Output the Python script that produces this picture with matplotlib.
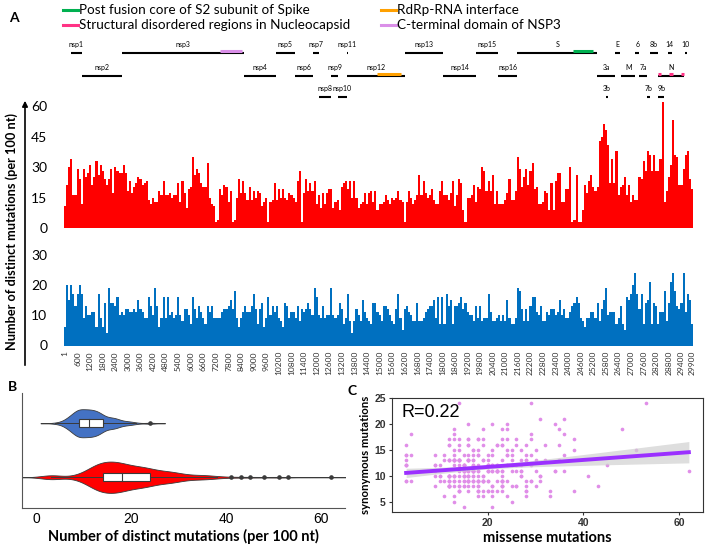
import numpy as np
import matplotlib
matplotlib.use("Agg")
import matplotlib.pyplot as plt
from matplotlib.patches import FancyArrowPatch, Rectangle
from matplotlib.lines import Line2D

plt.rcParams['font.family'] = ['Lato', 'DejaVu Sans']

# ---------------- data ----------------
# distinct missense mutations per 100 nt window (red)
missense_1 = [11, 21, 30, 34, 16, 16, 29, 24, 12, 29, 25, 27, 31, 21, 25, 33, 26, 31, 28, 24,
              21, 24, 29, 17, 30, 28, 27, 27, 31, 27, 18, 23, 17, 20, 22, 25, 24, 21, 22, 23,
              14, 12, 15, 13, 13, 18, 16, 23, 16, 16, 17, 15, 16, 16, 22, 13, 23, 17, 10, 19,
              20, 35, 26, 29, 27, 22, 20, 20, 32, 15, 12, 11]
missense_2 = [3, 4, 19, 16, 21, 20, 13, 18, 3, 4, 15, 24, 17, 23, 17, 14, 20, 14, 18, 15,
              18, 17, 11, 13, 15, 3, 13, 14, 22, 14, 19, 15, 19, 15, 14, 17, 16, 15, 13, 23,
              28, 3, 17, 24, 18, 22, 18, 23, 12, 16, 10, 17, 12, 17, 19, 19, 10, 13, 14, 9,
              20, 22, 23, 19, 23, 15, 23, 15, 10, 12, 13, 17, 12, 17, 18, 13, 18]
missense_3 = [9, 12, 12, 13, 16, 14, 12, 15, 14, 15, 18, 14, 13, 3, 13, 18, 15, 12, 14, 16,
              26, 16, 23, 17, 15, 16, 19, 14, 12, 12, 18, 23, 16, 16, 14, 17, 23, 11, 16, 24,
              22, 9, 3, 15, 15, 16, 21, 13, 20, 19, 30, 28, 18, 23, 18, 26, 12, 18, 12, 12,
              12, 14, 17, 24, 14, 14, 18, 35, 29, 20, 25, 29, 21, 28, 32, 19, 20]
missense_4 = [12, 12, 13, 18, 17, 9, 22, 9, 23, 27, 27, 13, 13, 19, 19, 30, 3, 4, 26, 3,
              3, 9, 21, 17, 23, 26, 20, 18, 20, 43, 45, 51, 48, 41, 22, 34, 22, 38, 16, 20,
              21, 25, 16, 21, 13, 16, 14, 14, 25, 24, 33, 28, 38, 36, 28, 36, 28, 28, 34, 62,
              13, 18, 25, 31, 53, 36, 35, 21, 21, 29, 36, 38, 24, 19]

# distinct synonymous mutations per 100 nt window (blue)
synonymous_1 = [6, 20, 15, 20, 17, 13, 17, 20, 17, 9, 13, 10, 10, 11, 11, 6, 17, 9, 6, 14,
                4, 19, 14, 14, 13, 16, 10, 11, 10, 12, 12, 11, 11, 12, 11, 15, 12, 11, 9, 9,
                16, 13, 10, 19, 13, 6, 9, 16, 9, 16, 10, 11, 9, 10, 16, 10, 8, 12, 12, 10,
                7, 16, 12, 9, 13, 11, 9, 7, 13, 11, 13, 9, 9, 9, 9, 11, 12, 12, 13, 15,
                12, 18, 9, 6, 9, 11, 13, 11, 11, 13, 17, 12, 7, 12, 14, 6, 9]
synonymous_2 = [16, 10, 13, 11, 13, 9, 8, 6, 14, 13, 9, 11, 11, 9, 13, 8, 12, 11, 12, 14,
                12, 10, 19, 16, 10, 9, 13, 9, 10, 10, 19, 10, 9, 10, 14, 12, 7, 9, 17, 8,
                4, 8, 12, 10, 8, 15, 11, 9, 8, 7, 14, 14, 11, 10, 8, 13, 13, 12, 10, 8,
                7, 12, 17, 9, 5, 12, 13, 11, 10, 8, 8, 14, 8, 8, 9, 11, 12, 13, 13, 15,
                9, 16, 7, 16, 7, 17, 13, 15, 7, 13, 13, 14, 16, 12, 14, 11, 10, 10, 8, 13]
synonymous_3 = [9, 13, 8, 9, 9, 17, 11, 8, 8, 9, 10, 8, 10, 8, 15, 9, 7, 7, 9, 19,
                18, 12, 8, 12, 8, 13, 16, 16, 11, 10, 13, 8, 8, 11, 10, 12, 12, 10, 11, 15,
                10, 12, 9, 9, 11, 13, 14, 16, 14, 9, 8, 6, 9, 9, 11, 11, 9, 14, 8, 12,
                15, 19, 10, 11, 11, 11, 7, 9, 13, 7, 5, 16, 15, 17, 20, 24, 17, 12, 17, 7,
                14, 15, 21, 7, 14, 13, 7, 11, 11, 18, 8, 14, 21, 24, 18, 13, 12, 14, 24, 11,
                17, 15, 7]

missense = np.array(missense_1 + missense_2 + missense_3 + missense_4, dtype=float)
synonymous = np.array(synonymous_1 + synonymous_2 + synonymous_3, dtype=float)

tick_labels = ["1"] + [str(v) for v in range(600, 29401, 600)] + ["29900"]

gene_names = ["nsp1", "nsp2", "nsp3", "nsp4", "nsp5", "nsp6", "nsp7", "nsp8", "nsp9", "nsp10",
              "nsp11", "nsp12", "nsp13", "nsp14", "nsp15", "nsp16", "S", "3a", "3b", "E",
              "M", "6", "7a", "7b", "8b", "N", "9b", "14", "10"]
gene_start = [266, 806, 2720, 8555, 10055, 10973, 11843, 12092, 12686, 13025,
              13442, 13442, 16237, 18040, 19621, 20659, 21563, 25393, 25814, 26245,
              26523, 27202, 27394, 27756, 27894, 28274, 28284, 28734, 29558]
gene_end = [805, 2719, 8554, 10054, 10972, 11842, 12091, 12685, 13024, 13441,
            13480, 16236, 18039, 19620, 20658, 21552, 25384, 26220, 25882, 26472,
            27191, 27387, 27759, 27887, 28259, 29533, 28577, 28955, 29674]
gene_row = [1, 2, 1, 2, 1, 2, 1, 3, 2, 3, 1, 2, 1, 2, 1, 2, 1, 2, 3, 1, 2, 1, 2, 3, 1, 2, 3, 1, 1]

region_names = ["Post fusion core of S2 subunit of Spike", "RdRp-RNA interface",
                "Structural disordered regions in Nucleocapsid", "C-terminal domain of NSP3"]
region_colors = ["#00b050", "#ffa000", "#ff3385", "#da8fe8"]
region_segments = [[(24250, 25200)], [(14900, 16000)],
                   [(28274, 28406), (28820, 29015), (29369, 29531)], [(7400, 8450)]]
region_rows = [1, 2, 2, 1]

R_text = "R=0.22"

# ---------------- layout helpers ----------------
W, H = 709, 545
fig = plt.figure(figsize=(W / 100, H / 100), dpi=100)


def rect(x0, y0, x1, y1):
    return [x0 / W, 1 - y1 / H, (x1 - x0) / W, (y1 - y0) / H]


def P(x, y):
    return (x / W, 1 - y / H)


RED = "#ff0000"
BLUE = "#0070c0"
n = len(missense)
idx = np.arange(n)

# ---------------- panel A: bars ----------------
ax_r = fig.add_axes(rect(64, 100, 693, 228))
ax_b = fig.add_axes(rect(64, 254.6, 693, 345.5))
ax_r.bar(idx, missense, width=1.0, color=RED, linewidth=0)
ax_b.bar(idx, synonymous, width=1.0, color=BLUE, linewidth=0)
for ax in (ax_r, ax_b):
    ax.set_xlim(-0.5, n - 0.5)
    for s in ax.spines.values():
        s.set_visible(False)
    ax.tick_params(axis='y', length=0, pad=12, labelsize=10)
ax_r.set_ylim(0, 63)
ax_r.set_yticks([0, 15, 30, 45, 60])
ax_r.set_xticks([])
ax_b.set_ylim(0, 30)
ax_b.set_yticks([0, 10, 20, 30])
tick_pos = [int(t) // 100 for t in tick_labels]
ax_b.set_xticks(tick_pos)
ax_b.set_xticklabels(tick_labels, rotation=90, fontsize=6, color="#333333")
ax_b.tick_params(axis='x', length=0, pad=4)

# gene annotation track
ax_g = fig.add_axes(rect(64, 36, 693, 100))
ax_g.set_xlim(-0.5, n - 0.5)
ax_g.set_ylim(100, 36)
ax_g.axis('off')
row_y = {1: 53, 2: 76, 3: 97}
for name, s, e, r in zip(gene_names, gene_start, gene_end, gene_row):
    ax_g.plot([s / 100, e / 100], [row_y[r], row_y[r]], color='black', lw=1.5,
              solid_capstyle='butt')
    ax_g.text((s + e) / 200, row_y[r] - 5, name, ha='center', va='bottom', fontsize=5)
for col, segs, r in zip(region_colors, region_segments, region_rows):
    for s, e in segs:
        ax_g.plot([s / 100, e / 100], [row_y[r] - 2, row_y[r] - 2], color=col, lw=2.2,
                  solid_capstyle='butt')

# legend
leg_pos = [(63, 10), (381, 10), (63, 25), (381, 25)]
for i, (lx, ly) in enumerate(leg_pos):
    fig.add_artist(Line2D([lx / W, (lx + 15) / W], [1 - ly / H, 1 - ly / H],
                          color=region_colors[i], lw=2.2, transform=fig.transFigure))
    fig.text((lx + 16) / W, 1 - ly / H, region_names[i], ha='left', va='center', fontsize=9.7)

# y-axis arrow and label
fig.add_artist(FancyArrowPatch(P(25, 368), P(25, 98), transform=fig.transFigure,
                               arrowstyle='-|>', mutation_scale=8, lw=1.2, color='black'))
fig.text(12 / W, 1 - 232 / H, "Number of distinct mutations (per 100 nt)", rotation=90,
         ha='center', va='center', fontsize=9.2, fontweight='bold')

fig.text(*P(14, 18), "A", fontsize=10, fontweight='bold', ha='center', va='center')
fig.text(*P(12, 387), "B", fontsize=10, fontweight='bold', ha='center', va='center')
fig.text(*P(352, 391), "C", fontsize=10, fontweight='bold', ha='center', va='center')

# ---------------- panel B: violins ----------------
ax_v = fig.add_axes(rect(22, 393, 345, 508))


def kde_curve(data):
    data = np.asarray(data)
    q1, q3 = np.percentile(data, [25, 75])
    bw = 0.9 * min(data.std(ddof=1), (q3 - q1) / 1.34) * len(data) ** -0.2
    grid = np.linspace(data.min() - 3 * bw, data.max() + 3 * bw, 400)
    dens = np.exp(-0.5 * ((grid[:, None] - data[None, :]) / bw) ** 2).sum(axis=1)
    return grid, dens / dens.max()


for data, pos, col, mw in [(synonymous, 1.0, "#4472c4", 0.26), (missense, 0.0, RED, 0.29)]:
    g, d = kde_curve(data)
    ax_v.fill_between(g, pos - d * mw, pos + d * mw, facecolor=col, edgecolor="#3a3a3a", lw=0.6)
    q1, med, q3 = np.percentile(data, [25, 50, 75])
    iqr = q3 - q1
    lo = data[data >= q1 - 1.5 * iqr].min()
    hi = data[data <= q3 + 1.5 * iqr].max()
    ax_v.plot([lo, q1], [pos, pos], color="#3a3a3a", lw=0.7)
    ax_v.plot([q3, hi], [pos, pos], color="#3a3a3a", lw=0.7)
    ax_v.add_patch(Rectangle((q1, pos - 0.075), q3 - q1, 0.15, facecolor='white',
                             edgecolor="#3a3a3a", lw=0.8, zorder=3))
    ax_v.plot([med, med], [pos - 0.075, pos + 0.075], color="#3a3a3a", lw=0.8, zorder=4)
    outl = np.unique(data[(data < q1 - 1.5 * iqr) | (data > q3 + 1.5 * iqr)])
    ax_v.plot(outl, np.full(len(outl), pos), 'o', ms=2.3, color="#3a3a3a", zorder=4)

ax_v.set_xlim(-3, 65)
ax_v.set_ylim(-0.57, 1.56)
ax_v.set_yticks([])
ax_v.set_xticks([0, 20, 40, 60])
ax_v.tick_params(axis='x', length=0, labelsize=10, pad=3)
for lab in ax_v.get_xticklabels():
    lab.set_family(['Liberation Sans', 'DejaVu Sans'])
ax_v.spines['top'].set_visible(False)
ax_v.spines['right'].set_visible(False)
ax_v.spines['left'].set_color('#555555')
ax_v.spines['bottom'].set_color('#555555')
ax_v.set_xlabel("Number of distinct mutations (per 100 nt)", fontsize=10.5,
                fontweight='bold', labelpad=2)

# ---------------- panel C: scatter ----------------
ax_c = fig.add_axes(rect(392, 398, 703, 512))
ax_c.scatter(missense, synonymous, s=7, color="#e08ee8", linewidths=0, zorder=2)
slope, intercept = np.polyfit(missense, synonymous, 1)
xg = np.linspace(missense.min(), missense.max(), 100)
yg = slope * xg + intercept
resid = synonymous - (slope * missense + intercept)
s_err = np.sqrt((resid ** 2).sum() / (n - 2))
se = s_err * np.sqrt(1 / n + (xg - missense.mean()) ** 2 / ((missense - missense.mean()) ** 2).sum())
ax_c.fill_between(xg, yg - 1.97 * se, yg + 1.97 * se, color="#d0d0d0", alpha=0.7, lw=0, zorder=3)
ax_c.plot(xg, yg, color="#9b30ff", lw=2.8, zorder=4)
xr = missense.max() - missense.min()
yr = synonymous.max() - synonymous.min()
ax_c.set_xlim(missense.min() - 0.05 * xr, missense.max() + 0.05 * xr)
ax_c.set_ylim(synonymous.min() - 0.05 * yr, synonymous.max() + 0.05 * yr)
ax_c.set_xticks([20, 40, 60])
ax_c.set_yticks([5, 10, 15, 20, 25])
ax_c.tick_params(length=2.5, width=0.8, labelsize=7.5, pad=2, colors="#333333")
for lab in ax_c.get_xticklabels() + ax_c.get_yticklabels():
    lab.set_family(['Liberation Sans', 'DejaVu Sans'])
    lab.set_fontweight('bold')
for s in ax_c.spines.values():
    s.set_color('#333333')
    s.set_linewidth(0.8)
ax_c.text(0.03, 0.83, R_text, transform=ax_c.transAxes, fontsize=13,
          family=['Liberation Sans', 'DejaVu Sans'])
ax_c.set_xlabel("missense mutations", fontsize=10.5, fontweight='bold', labelpad=2)
ax_c.set_ylabel("synonymous mutations", fontsize=8.2, fontweight='bold', labelpad=2)

fig.savefig("out.png", dpi=100)
